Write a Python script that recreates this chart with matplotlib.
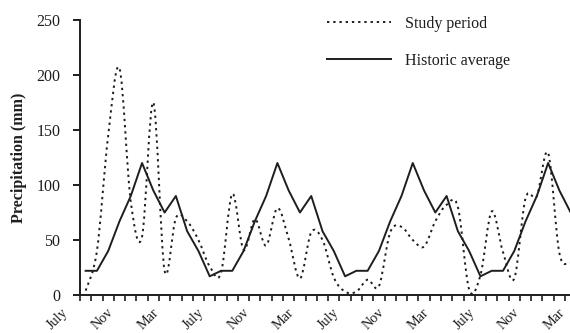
import numpy as np
import matplotlib as mpl
mpl.use('Agg')
from matplotlib import pyplot as plt
from matplotlib.path import Path
from matplotlib.patches import PathPatch
from matplotlib.lines import Line2D

plt.rcParams['font.family'] = ['Liberation Serif', 'DejaVu Serif']

# monthly rainfall, July of year 1 .. March of year 4
study_period = [4, 40, 145, 206, 85, 53, 175, 22, 70, 67, 50, 26,
                20, 92, 41, 69, 45, 79, 51, 15, 57, 50, 16, 3,
                3, 14, 8, 57, 62, 50, 44, 67, 82, 80, 5, 18,
                76, 39, 15, 88, 90, 129, 38, 29, 25]
historic_average = [22, 22, 40, 67, 90, 120, 95, 75, 90, 58, 40, 17,
                    22, 22, 40, 67, 90, 120, 95, 75, 90, 58, 40, 17,
                    22, 22, 40, 67, 90, 120, 95, 75, 90, 58, 40, 17,
                    22, 22, 40, 67, 90, 120, 95, 75, 90]
month_labels = ['July', 'Nov', 'Mar'] * 4
label_every = 4

INK = '#1e1e1e'


def smooth_path(y):
    # Catmull-Rom style bezier through the points (like a "smoothed line")
    x = np.arange(len(y), dtype=float)
    y = np.asarray(y, dtype=float)
    pts = np.column_stack([x, y])
    n = len(pts)
    verts = [pts[0]]
    codes = [Path.MOVETO]
    for i in range(n - 1):
        p0 = pts[max(i - 1, 0)]
        p1 = pts[i]
        p2 = pts[i + 1]
        p3 = pts[min(i + 2, n - 1)]
        verts += [p1 + (p2 - p0) / 6.0, p2 - (p3 - p1) / 6.0, p2]
        codes += [Path.CURVE4] * 3
    return Path(verts, codes)


fig = plt.figure(figsize=(5.7, 3.33), dpi=100)
ax = fig.add_axes([80 / 570, 38 / 333, 490 / 570, 275 / 333])

dot_style = dict(color=INK, lw=1.4, linestyle=(0, (1.2, 2.0)))
solid_style = dict(color=INK, lw=1.4, linestyle='-')

ax.add_patch(PathPatch(smooth_path(study_period), fill=False, **dot_style))
ax.plot(range(len(historic_average)), historic_average, **solid_style)

ax.set_xlim(-0.5, 42.94)
ax.set_ylim(0, 250)

for s in ['top', 'right']:
    ax.spines[s].set_visible(False)
for s in ['left', 'bottom']:
    ax.spines[s].set_color(INK)
    ax.spines[s].set_linewidth(1.4)

ax.set_yticks(np.arange(0, 251, 50))
ax.tick_params(axis='y', direction='out', length=5, width=1.4, pad=9,
               labelsize=11.5, colors=INK)
ax.set_xticks(np.arange(-0.5, 43, 1.0))
ax.set_xticklabels([])
ax.tick_params(axis='x', direction='out', length=4, width=1.2, colors=INK)

trans = mpl.transforms.blended_transform_factory(ax.transData, ax.transAxes)
for k, lab in enumerate(month_labels):
    ax.text(k * label_every - 1.3, -0.04, lab, rotation=45, ha='right', va='top',
            fontsize=10.3, color=INK, transform=trans, clip_on=False)

ax.set_ylabel('Precipitation (mm)', fontsize=11.5, fontweight='bold', color=INK)
ax.yaxis.set_label_coords(-0.108, 0.5)

handles = [Line2D([], [], **dot_style), Line2D([], [], **solid_style)]
ax.legend(handles, ['Study period', 'Historic average'], loc='upper left',
          bbox_to_anchor=(0.504, 1.015), frameon=False, handlelength=4,
          handletextpad=0.9, labelspacing=1.3, borderpad=0, borderaxespad=0,
          prop={'size': 11.5}, labelcolor=INK)

fig.savefig('out.png', dpi=100)
